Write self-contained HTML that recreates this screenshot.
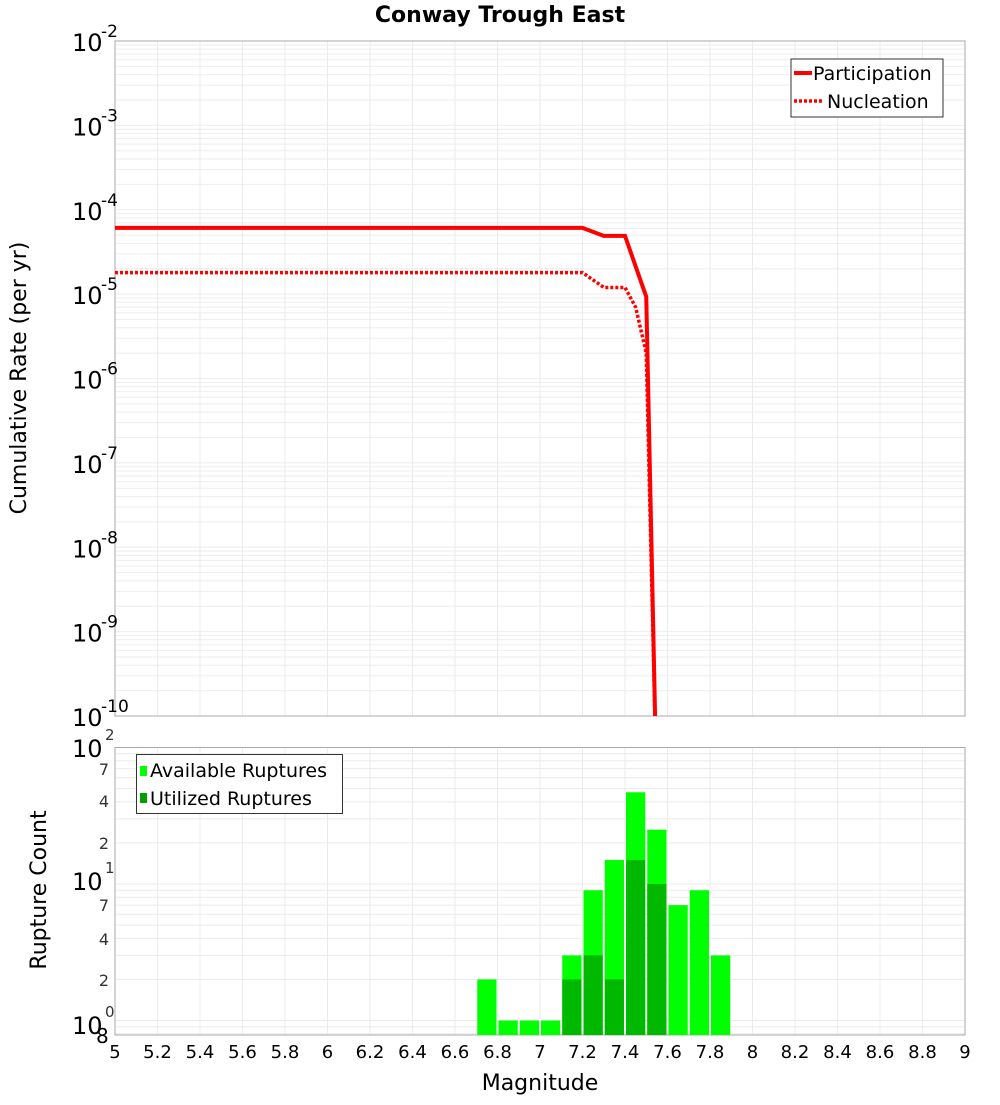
<!DOCTYPE html>
<html><head><meta charset="utf-8"><style>
body{margin:0;background:#fff}
svg{font-family:"DejaVu Sans","Liberation Sans",sans-serif}
</style></head><body>
<svg id="c" width="1000" height="1100" xmlns="http://www.w3.org/2000/svg"></svg>
<script>
const magX=[5,5.5,6,6.5,7,7.2,7.3,7.4,7.5,7.55];
const partic=[6.1e-5,6.1e-5,6.1e-5,6.1e-5,6.1e-5,6.1e-5,4.9e-5,4.9e-5,9.3e-6,1e-11];
const nuclX=[5,5.5,6,6.5,7,7.2,7.3,7.4,7.45,7.5,7.55];
const nucl=[1.8e-5,1.8e-5,1.8e-5,1.8e-5,1.8e-5,1.8e-5,1.2e-5,1.2e-5,7e-6,2e-6,1e-11];
const binStarts=[6.7,6.8,6.9,7.0,7.1,7.2,7.3,7.4,7.5,7.6,7.7,7.8];
const available=[2,1,1,1,3,9,15,47,25,7,9,3];
const utilized=[0,0,0,0,2,3,2,15,10,0,0,0];
const xTicks=[5,5.2,5.4,5.6,5.8,6,6.2,6.4,6.6,6.8,7,7.2,7.4,7.6,7.8,8,8.2,8.4,8.6,8.8,9];
const topExps=[-2,-3,-4,-5,-6,-7,-8,-9,-10];

const NS="http://www.w3.org/2000/svg",svg=document.getElementById('c');
function mk(t,a,p){const e=document.createElementNS(NS,t);for(const k in a)e.setAttribute(k,a[k]);(p||svg).appendChild(e);return e;}
const L=115,R=965;
const X=m=>L+(m-5)/4*(R-L);
const T0=41,T1=716,Ytop=v=>T0+(-2-Math.log10(v))*(T1-T0)/8;
const B0=747.5,B1=1035,dec=136.5,Ybot=v=>Math.min(B1,B0+(2-Math.log10(v))*dec);

for(let e=-10;e<-2;e++)for(let k=1;k<10;k++){const y=Ytop(k*Math.pow(10,e));const g=mk('line',{x1:L,x2:R,y1:y,y2:y,stroke:'#eeeeee','stroke-width':1});}
xTicks.forEach(t=>{for(const [a,b] of [[T0,T1],[B0,B1]]){const g=mk('line',{x1:X(t),x2:X(t),y1:a,y2:b,stroke:'#ebebeb'});}});
for(let e=-1;e<2;e++)for(let k=1;k<10;k++){const v=k*Math.pow(10,e);if(v<0.78)continue;const y=Ybot(v);const g=mk('line',{x1:L,x2:R,y1:y,y2:y,stroke:'#ebebeb'});}

let f=mk('rect',{x:L,y:T0,width:R-L,height:T1-T0,fill:'none',stroke:'#aaa'});
f=mk('rect',{x:L,y:B0,width:R-L,height:B1-B0,fill:'none',stroke:'#aaa'});

const cp=mk('clipPath',{id:'tc'});mk('rect',{x:L,y:T0,width:R-L,height:T1-T0},cp);
let d=magX.map((m,i)=>(i?'L':'M')+X(m)+','+Ytop(partic[i])).join('');
let p=mk('path',{d,fill:'none',stroke:'#f00','stroke-width':4,'clip-path':'url(#tc)'});
d=nuclX.map((m,i)=>(i?'L':'M')+X(m)+','+Ytop(nucl[i])).join('');
p=mk('path',{d,fill:'none',stroke:'#f00','stroke-width':3.5,'stroke-dasharray':'3,2','clip-path':'url(#tc)'});

binStarts.forEach((s,i)=>{const x=X(s)+1,w=X(s+0.1)-X(s)-2;
 let b=mk('rect',{x,y:Ybot(available[i]),width:w,height:B1-Ybot(available[i]),fill:'#00ff00'});
 if(utilized[i]>0){b=mk('rect',{x,y:Ybot(utilized[i]),width:w,height:B1-Ybot(utilized[i]),fill:'#00b800'});}
});

topExps.forEach(e=>{const y=Ytop(Math.pow(10,e));let t=mk('text',{x:72,y:y+10,'font-size':24});t.textContent='10';
 t=mk('text',{x:101,y:y-4,'font-size':17});t.textContent=String(e);});
[[2,757],[1,890],[0,1034]].forEach(([e,y])=>{let t=mk('text',{x:72,y,'font-size':24});t.textContent='10';
 t=mk('text',{x:105,y:y-17,'font-size':15,fill:'#333'});t.textContent=String(e);});
[[7,1,775],[4,1,807],[2,1,849],[7,0,911],[4,0,945],[2,0,986]].forEach(([k,e,y])=>{const t=mk('text',{x:104,y,'font-size':16,fill:'#333','text-anchor':'middle'});t.textContent=k;});
let t8=mk('text',{x:96,y:1043,'font-size':20});t8.textContent='8';

xTicks.forEach(v=>{const t=mk('text',{x:X(v),y:1058,'font-size':18,'text-anchor':'middle'});t.textContent=String(v);});

let t=mk('text',{x:500,y:22,'font-size':22,'font-weight':'bold','text-anchor':'middle'});t.textContent='Conway Trough East';
t=mk('text',{x:540,y:1090,'font-size':22,'text-anchor':'middle'});t.textContent='Magnitude';
t=mk('text',{x:0,y:0,'font-size':22,'text-anchor':'middle',transform:'translate(26,378) rotate(-90)'});t.textContent='Cumulative Rate (per yr)';
t=mk('text',{x:0,y:0,'font-size':22,'text-anchor':'middle',transform:'translate(46,890) rotate(-90)'});t.textContent='Rupture Count';

let g=mk('g',{});
mk('rect',{x:791,y:59,width:152,height:58,fill:'#fff',stroke:'#333'},g);
mk('line',{x1:794,x2:812,y1:73,y2:73,stroke:'#f00','stroke-width':4},g);
mk('line',{x1:794,x2:824,y1:101,y2:101,stroke:'#f00','stroke-width':3.5,'stroke-dasharray':'3,2'},g);
t=mk('text',{x:813,y:80,'font-size':19},g);t.textContent='Participation';
t=mk('text',{x:827,y:108,'font-size':19},g);t.textContent='Nucleation';
g=mk('g',{});
mk('rect',{x:136.5,y:754.5,width:206,height:59,fill:'#fff',stroke:'#333'},g);
mk('rect',{x:140,y:766,width:7,height:10,fill:'#00ff00'},g);
mk('rect',{x:140,y:793,width:7,height:10,fill:'#00a000'},g);
t=mk('text',{x:150,y:777,'font-size':19},g);t.textContent='Available Ruptures';
t=mk('text',{x:150,y:805,'font-size':19},g);t.textContent='Utilized Ruptures';
</script>
</body></html>
